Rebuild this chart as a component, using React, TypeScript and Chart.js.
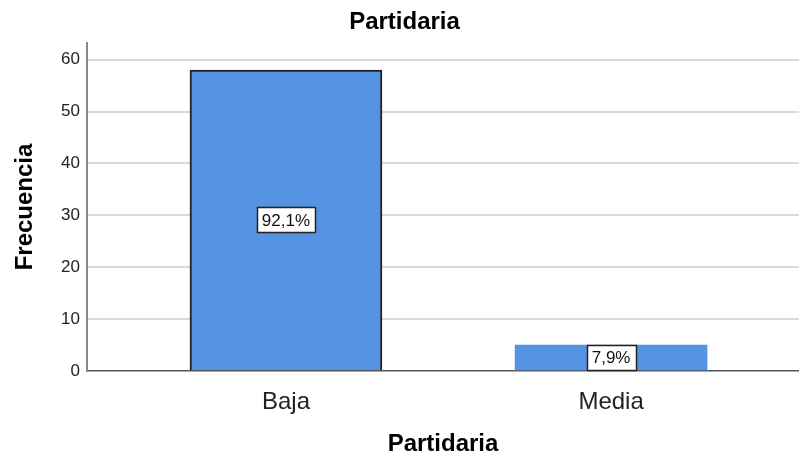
import { useEffect, useRef } from 'react';
import { Chart, registerables } from 'chart.js';

Chart.register(...registerables);

const categories: string[] = ['Baja', 'Media'];
const frequencies: number[] = [58, 5];
const percentLabels: string[] = ['92,1%', '7,9%'];
const chartTitle = 'Partidaria';
const xAxisTitle = 'Partidaria';
const yAxisTitle = 'Frecuencia';
const yMax = 63.2;
const yStep = 10;

const FONT = '"Liberation Sans", Arial, sans-serif';

const labelPlugin = {
  id: 'pctLabels',
  afterDatasetsDraw(chart: any) {
    const ctx = chart.ctx;
    const meta = chart.getDatasetMeta(0);
    ctx.save();
    ctx.font = `17px ${FONT}`;
    ctx.textAlign = 'center';
    ctx.textBaseline = 'middle';
    meta.data.forEach((el: any, i: number) => {
      const t = percentLabels[i];
      const w = Math.round(ctx.measureText(t).width + 10);
      const h = 25;
      const cx = el.x;
      const cy = (el.y + el.base) / 2;
      const x0 = Math.round(cx - w / 2) + 0.5;
      const y0 = Math.round(cy - h / 2) + 0.5;
      ctx.fillStyle = '#ffffff';
      ctx.fillRect(x0, y0, w, h);
      ctx.strokeStyle = '#222222';
      ctx.lineWidth = 1.5;
      ctx.strokeRect(x0, y0, w, h);
      ctx.fillStyle = '#111111';
      ctx.fillText(t, cx, cy + 1);
    });
    ctx.restore();
  },
};

export default function App() {
  const ref = useRef<HTMLCanvasElement | null>(null);

  useEffect(() => {
    if (!ref.current) return;
    const chart = new Chart(ref.current, {
      type: 'bar',
      data: {
        datasets: [
          {
            data: categories.map((c, i) => ({ x: i, y: frequencies[i] })),
            backgroundColor: '#5594e2',
            borderColor: '#222222',
            borderWidth: [2, 0],
            barThickness: 192,
          } as any,
        ],
      },
      options: {
        responsive: true,
        maintainAspectRatio: false,
        animation: false,
        layout: { padding: { left: 10, right: 0, top: 0, bottom: 0 } },
        plugins: {
          legend: { display: false },
          tooltip: { enabled: false },
          title: {
            display: true,
            text: chartTitle,
            color: '#000',
            font: { family: FONT, size: 24, weight: 'bold' },
            padding: { top: 7.6, bottom: 6.6 },
          },
        },
        scales: {
          x: {
            type: 'linear',
            offset: false,
            min: -0.612,
            max: 1.578,
            afterBuildTicks: (s: any) => {
              s.ticks = categories.map((_, i) => ({ value: i }));
            },
            afterFit: (s: any) => {
              s.height = 88;
            },
            ticks: {
              callback: (v: any) => categories[v] ?? '',
              font: { family: FONT, size: 24 },
              color: '#222',
              padding: 9,
              autoSkip: false,
              maxRotation: 0,
            },
            grid: { display: false, offset: false },
            border: { display: true, color: '#555', width: 1.5 },
            title: {
              display: true,
              text: xAxisTitle,
              color: '#000',
              font: { family: FONT, size: 24, weight: 'bold' },
              padding: { top: 0, bottom: 0 },
            },
          } as any,
          y: {
            min: 0,
            max: yMax,
            afterFit: (s: any) => {
              s.width = 77;
            },
            ticks: {
              stepSize: yStep,
              includeBounds: false,
              font: { family: FONT, size: 17 },
              color: '#222',
              padding: 7,
            },
            grid: {
              drawTicks: false,
              lineWidth: 2,
              color: (c: any) => (c.tick && c.tick.value === 0 ? 'rgba(0,0,0,0)' : '#d9d9d9'),
            },
            border: { display: true, color: '#888', width: 2 },
            title: {
              display: true,
              text: yAxisTitle,
              color: '#000',
              font: { family: FONT, size: 24, weight: 'bold' },
              padding: { top: 0.6, bottom: 0 },
            },
          } as any,
        },
      },
      plugins: [labelPlugin],
    });
    return () => chart.destroy();
  }, []);

  return (
    <div style={{ position: 'fixed', left: 0, top: 0, width: 799, height: 459, background: '#fff' }}>
      <canvas ref={ref} />
    </div>
  );
}
